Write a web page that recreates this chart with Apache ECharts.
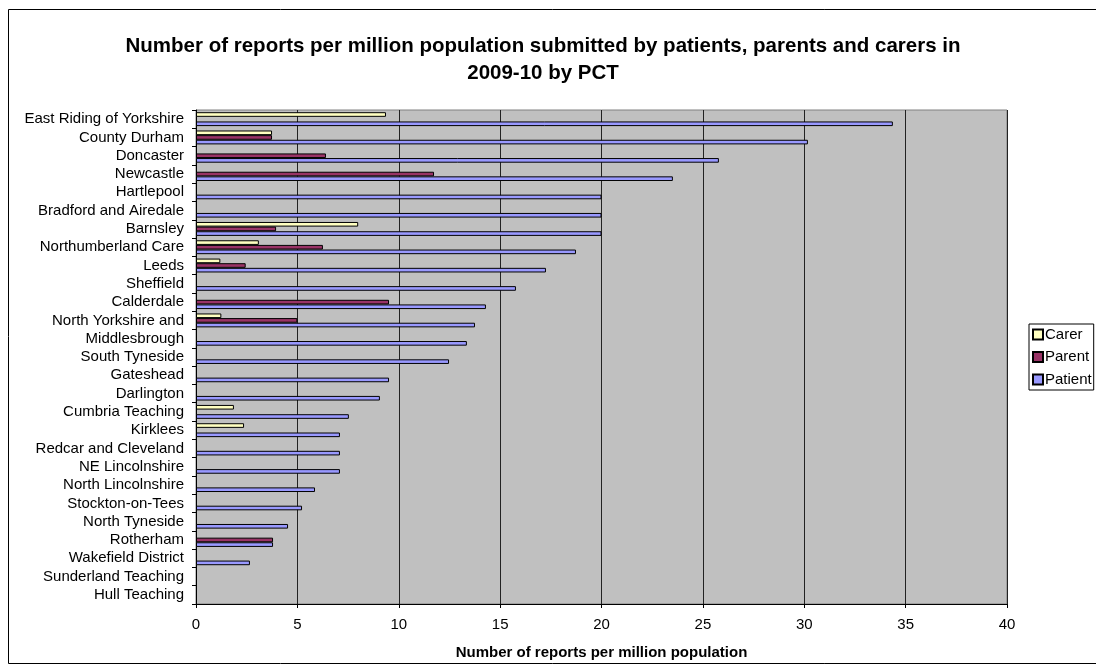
<!DOCTYPE html>
<html>
<head>
<meta charset="utf-8">
<script src="https://cdn.jsdelivr.net/npm/echarts@6/dist/echarts.min.js"></script>
<style>
  html, body { margin: 0; padding: 0; background: #fff; }
  #chart { width: 1096px; height: 668px; }
</style>
</head>
<body>
<div id="chart"></div>
<script>
var categories = ['East Riding of Yorkshire', 'County Durham', 'Doncaster', 'Newcastle', 'Hartlepool',
  'Bradford and Airedale', 'Barnsley', 'Northumberland Care', 'Leeds', 'Sheffield', 'Calderdale',
  'North Yorkshire and', 'Middlesbrough', 'South Tyneside', 'Gateshead', 'Darlington',
  'Cumbria Teaching', 'Kirklees', 'Redcar and Cleveland', 'NE Lincolnshire', 'North Lincolnshire',
  'Stockton-on-Tees', 'North Tyneside', 'Rotherham', 'Wakefield District', 'Sunderland Teaching',
  'Hull Teaching'];
var carer   = [9.37, 3.75, 0, 0, 0, 0, 8.0, 3.1, 1.2, 0, 0, 1.25, 0, 0, 0, 0, 1.87, 2.37, 0, 0, 0, 0, 0, 0, 0, 0, 0];
var parent  = [0, 3.75, 6.41, 11.74, 0, 0, 3.95, 6.26, 2.45, 0, 9.52, 5.0, 0, 0, 0, 0, 0, 0, 0, 0, 0, 0, 0, 3.8, 0, 0, 0];
var patient = [34.37, 30.18, 25.79, 23.52, 20.0, 20.0, 20.0, 18.74, 17.26, 15.78, 14.3, 13.76, 13.36, 12.48,
  9.52, 9.07, 7.54, 7.1, 7.1, 7.1, 5.87, 5.23, 4.54, 3.8, 2.66, 0, 0];
var seriesNames = ['Carer', 'Parent', 'Patient'];
var seriesColors = ['#FFFFC0', '#993366', '#9999FF'];

var chart = echarts.init(document.getElementById('chart'));
var font = 'Liberation Sans, Arial, sans-serif';

function mkSeries(i, data) {
  return {
    name: seriesNames[i],
    type: 'bar',
    data: data.map(function (v) { return v === 0 ? null : v; }),
    barGap: '0%',
    barCategoryGap: '24%',
    itemStyle: { color: seriesColors[i], borderColor: '#000', borderWidth: 1 }
  };
}

chart.setOption({
  animation: false,
  textStyle: { fontFamily: font },
  graphic: [{
    type: 'rect',
    shape: { x: 8.5, y: 9.5, width: 1100, height: 654 },
    style: { fill: 'none', stroke: '#000', lineWidth: 1 },
    z: -1
  }],
  title: {
    text: 'Number of reports per million population submitted by patients, parents and carers in\n2009-10 by PCT',
    left: 538,
    textAlign: 'center',
    top: 28,
    textStyle: { fontFamily: font, fontSize: 20.5, fontWeight: 'bold', color: '#000', lineHeight: 27 }
  },
  legend: {
    orient: 'vertical',
    left: 1029,
    top: 324,
    data: seriesNames,
    icon: 'rect',
    itemWidth: 10,
    itemHeight: 10,
    itemGap: 7.5,
    padding: [3, 2, 3, 3],
    borderColor: '#000',
    borderWidth: 1,
    backgroundColor: '#fff',
    textStyle: { fontFamily: font, fontSize: 15, color: '#000', padding: [0, 0, 0, -3] }
  },
  grid: {
    left: 196, right: 89, top: 110, bottom: 64,
    outerBoundsMode: 'none',
    containLabel: false,
    show: true,
    backgroundColor: '#C0C0C0',
    borderColor: '#808080',
    borderWidth: 1
  },
  xAxis: {
    type: 'value',
    min: 0, max: 40, interval: 5,
    name: 'Number of reports per million population',
    nameLocation: 'middle',
    nameGap: 41,
    nameTextStyle: { fontFamily: font, fontSize: 15, fontWeight: 'bold', color: '#000' },
    axisLine: { show: true, lineStyle: { color: '#000' } },
    axisTick: { show: true, length: 4, lineStyle: { color: '#000' } },
    axisLabel: { fontFamily: font, fontSize: 15, color: '#000', margin: 13 },
    splitLine: { show: true, lineStyle: { color: '#222', width: 1 } }
  },
  yAxis: {
    type: 'category',
    data: categories,
    inverse: true,
    axisLine: { show: true, lineStyle: { color: '#000' } },
    axisTick: { show: true, length: 4, lineStyle: { color: '#000' } },
    axisLabel: { fontFamily: font, fontSize: 15, color: '#000', margin: 12, interval: 0, padding: [3, 0, 0, 0] },
    splitLine: { show: false }
  },
  series: [mkSeries(0, carer), mkSeries(1, parent), mkSeries(2, patient)]
});
</script>
</body>
</html>
